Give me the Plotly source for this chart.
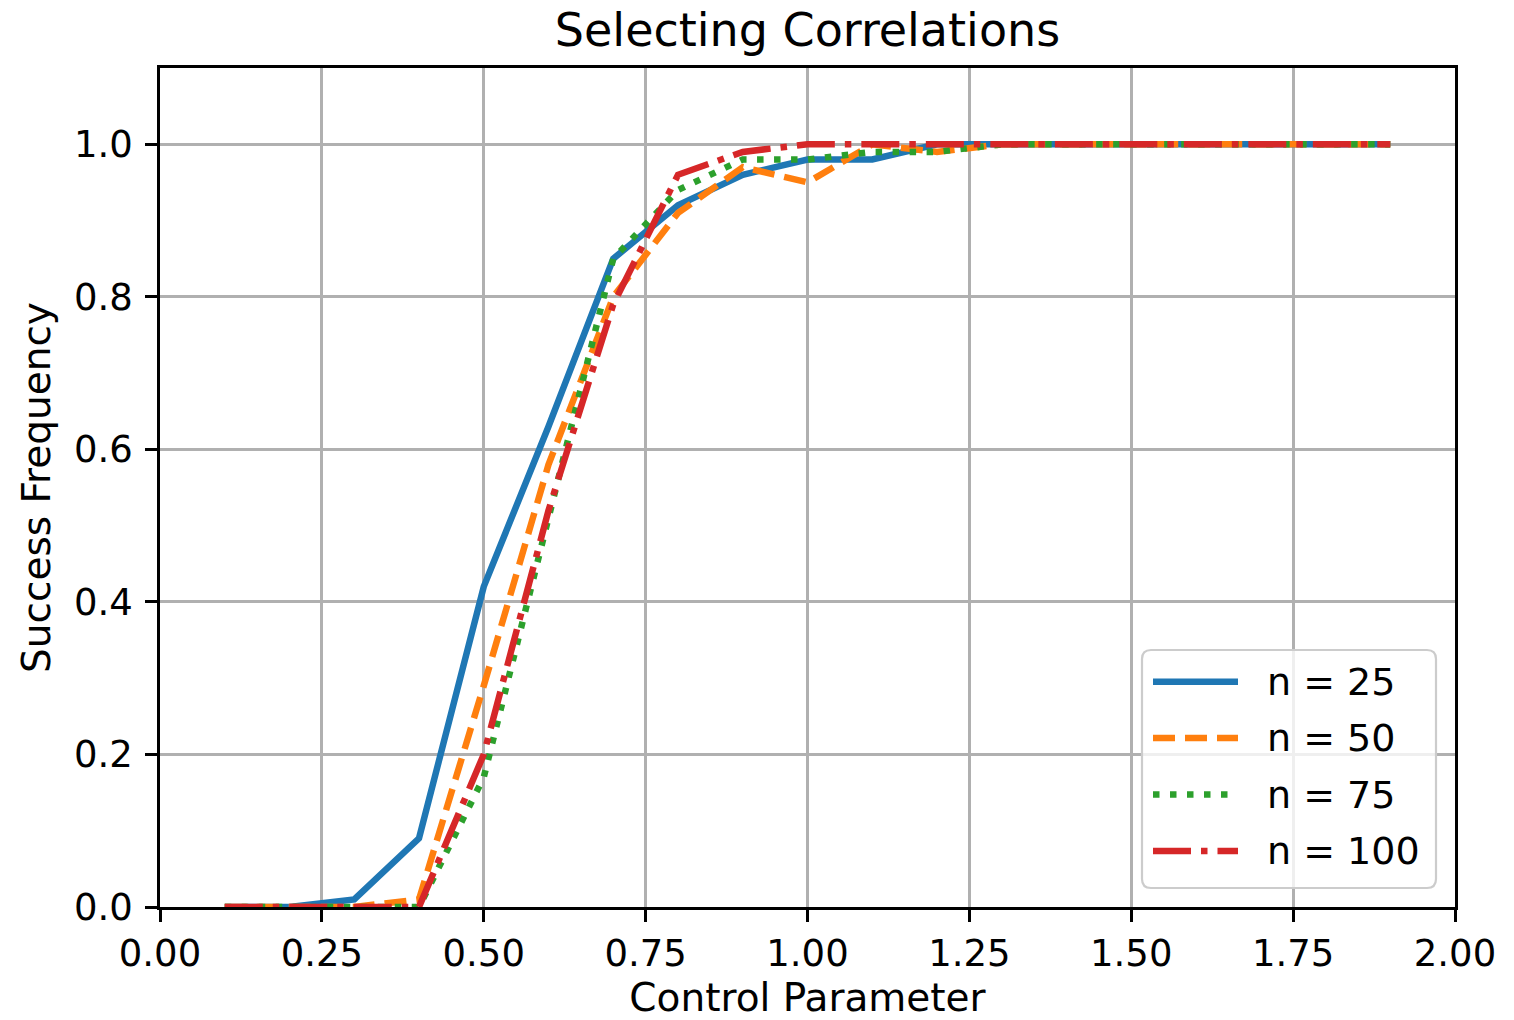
import plotly.graph_objects as go

x_vals = [0.1, 0.2, 0.3, 0.4, 0.5, 0.6, 0.7, 0.8, 0.9, 1.0, 1.1, 1.2, 1.3, 1.4, 1.5, 1.6, 1.7, 1.8, 1.9]
n25 = [0.0, 0.0, 0.01, 0.09, 0.42, 0.63, 0.85, 0.92, 0.96, 0.98, 0.98, 1.0, 1.0, 1.0, 1.0, 1.0, 1.0, 1.0, 1.0]
n50 = [0.0, 0.0, 0.0, 0.01, 0.29, 0.58, 0.80, 0.91, 0.97, 0.95, 1.0, 0.99, 1.0, 1.0, 1.0, 1.0, 1.0, 1.0, 1.0]
n75 = [0.0, 0.0, 0.0, 0.0, 0.17, 0.51, 0.85, 0.94, 0.98, 0.98, 0.99, 0.99, 1.0, 1.0, 1.0, 1.0, 1.0, 1.0, 1.0]
n100 = [0.0, 0.0, 0.0, 0.0, 0.20, 0.52, 0.79, 0.96, 0.99, 1.0, 1.0, 1.0, 1.0, 1.0, 1.0, 1.0, 1.0, 1.0, 1.0]

series_names = ["n = 25", "n = 50", "n = 75", "n = 100"]
series_vals = [n25, n50, n75, n100]
colors = ["#1f77b4", "#ff7f0e", "#2ca02c", "#d62728"]
dashes = ["solid", "22px,10px", "6.5px,10.5px", "38px,10px,6.5px,10px"]

x_ticks = [0.0, 0.25, 0.5, 0.75, 1.0, 1.25, 1.5, 1.75, 2.0]
y_ticks = [0.0, 0.2, 0.4, 0.6, 0.8, 1.0]

FONT = "DejaVu Sans"

# plot-area pixel box on the page
PL, PR, PT, PB = 160, 1455, 68, 907
W, H = 1514, 1020


def px_to_paper_x(px):
    return (px - PL) / (PR - PL)


def px_to_paper_y(py):
    return (PB - py) / (PB - PT)


fig = go.Figure()
for name, vals, c, d in zip(series_names, series_vals, colors, dashes):
    fig.add_trace(go.Scatter(
        x=x_vals, y=vals, mode="lines", name=name,
        line=dict(color=c, width=6.5, dash=d),
        showlegend=False,
    ))

axis_common = dict(
    showline=True, linecolor="black", linewidth=2.5, mirror=True,
    ticks="outside", ticklen=12, tickwidth=2.5, tickcolor="black",
    showgrid=True, gridcolor="#b0b0b0", gridwidth=2.5,
    zeroline=False, automargin=False,
    tickfont=dict(family=FONT, size=37, color="black"),
)

# legend box (rounded rectangle) drawn in paper coordinates
bx0, bx1, by0, by1, r = 1142, 1436, 650, 888, 9


def P(px, py):
    return f"{px_to_paper_x(px):.6f},{px_to_paper_y(py):.6f}"


path = (f"M{P(bx0 + r, by0)} L{P(bx1 - r, by0)} Q{P(bx1, by0)} {P(bx1, by0 + r)} "
        f"L{P(bx1, by1 - r)} Q{P(bx1, by1)} {P(bx1 - r, by1)} "
        f"L{P(bx0 + r, by1)} Q{P(bx0, by1)} {P(bx0, by1 - r)} "
        f"L{P(bx0, by0 + r)} Q{P(bx0, by0)} {P(bx0 + r, by0)} Z")
shapes = [dict(type="path", xref="paper", yref="paper", path=path,
               fillcolor="rgba(255,255,255,0.8)", line=dict(color="#cccccc", width=2.2),
               layer="above")]
annotations = []
row_y = [681.7, 738, 794.5, 851]
for name, c, d, ry in zip(series_names, colors, dashes, row_y):
    shapes.append(dict(type="line", xref="paper", yref="paper",
                       x0=px_to_paper_x(1153), x1=px_to_paper_x(1238),
                       y0=px_to_paper_y(ry), y1=px_to_paper_y(ry),
                       line=dict(color=c, width=6.5, dash=d), layer="above"))
    annotations.append(dict(xref="paper", yref="paper", x=px_to_paper_x(1265), y=px_to_paper_y(ry),
                            text=name, showarrow=False, xanchor="left", yanchor="middle",
                            font=dict(family=FONT, size=38, color="black")))

fig.update_layout(
    width=W, height=H,
    paper_bgcolor="white", plot_bgcolor="white",
    margin=dict(l=PL, r=W - PR, t=PT, b=H - PB, autoexpand=False),
    font=dict(family=FONT, color="black"),
    title=dict(text="Selecting Correlations", x=0.5, xref="paper",
               y=1 - 30 / H, yref="container", yanchor="middle", xanchor="center",
               font=dict(family=FONT, size=46, color="black")),
    xaxis=dict(range=[0, 2], tickvals=x_ticks, ticktext=[f"{v:.2f}" for v in x_ticks],
               title=dict(text="Control Parameter", font=dict(family=FONT, size=39), standoff=14),
               ticklabelstandoff=0,
               **axis_common),
    yaxis=dict(range=[0, 1.1], tickvals=y_ticks, ticktext=[f"{v:.1f}" for v in y_ticks],
               title=dict(text="Success Frequency", font=dict(family=FONT, size=39), standoff=12),
               ticklabelstandoff=5,
               **axis_common),
    shapes=shapes,
    annotations=annotations,
    showlegend=False,
)

fig.write_html("out.html", config={"displayModeBar": False},
               post_script="document.body.style.margin='0';document.body.style.overflow='hidden';")
